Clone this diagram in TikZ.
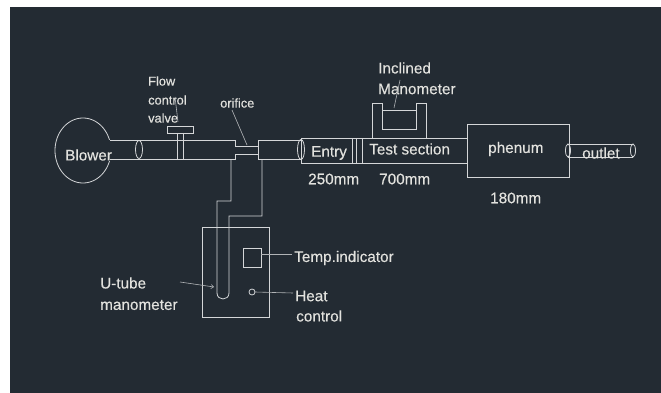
\documentclass[tikz,border=0pt]{standalone}
\usepackage{fontspec}
\setmainfont{Liberation Sans}[RawFeature={embolden=0.35}]
\usetikzlibrary{arrows.meta}
\definecolor{bg}{HTML}{232B33}
\definecolor{ln}{HTML}{D4D6D8}
\definecolor{tx}{HTML}{E2E2DE}
\tikzset{
  pipe/.style={draw=ln,line width=0.8pt},
  leader/.style={draw=ln!80!bg,line width=0.6pt},
  lab/.style={text=tx,inner sep=0pt,anchor=west,font=\fontsize{15.3}{15}\selectfont},
  small/.style={lab,font=\fontsize{12.8}{13}\selectfont}
}
\begin{document}
\begin{tikzpicture}[x=1pt,y=-1pt]
\useasboundingbox (0,0) rectangle (661,393);
\fill[white] (0,0) rectangle (661,393);
\fill[bg] (10,7) rectangle (661,393);
% blower
\draw[pipe] plot[domain=19:341,samples=80,smooth] ({83+28*cos(\x)},{150.5-32.5*sin(\x)});
\draw[pipe] (110,140) -- (235,140) -- (235,146) -- (258,146) -- (258,140) -- (301,140);
\draw[pipe] (110,159) -- (235,159) -- (235,154) -- (258,154) -- (258,159) -- (301,159);
\draw[pipe] (258,140) -- (258,159);
\draw[pipe] (139,149.5) ellipse[x radius=3.5,y radius=9];
\draw[pipe] (301,149.5) ellipse[x radius=3.5,y radius=10];
% valve
\draw[pipe] (167,126) rectangle (193,133);
\draw[pipe] (177,133) -- (177,159) (183,133) -- (183,159);
% entry and test section
\draw[pipe] (301,138) -- (467,138) (301,163) -- (467,163) (301,138) -- (301,163);
\draw[pipe] (352,138) -- (352,163) (356,138) -- (356,163) (362,138) -- (362,163);
% plenum
\draw[pipe] (467,124) rectangle (569,177);
% outlet
\draw[pipe] (568,144) -- (633,144) (568,157) -- (633,157);
\draw[pipe] (568,150.5) ellipse[x radius=2.5,y radius=6.5];
\draw[pipe] (633,150.5) ellipse[x radius=2.5,y radius=6.5];
% inclined manometer
\draw[pipe] (372,138) -- (372,103) -- (382,103) -- (382,129) -- (416,129) -- (416,103) -- (426,103) -- (426,138);
\draw[pipe] (382,110) -- (416,110);
% U-tube lines
\draw[pipe] (231,159) -- (231,201) -- (217,201) -- (217,293) .. controls (217,301) and (229,301) .. (229,293) -- (229,216) -- (262,216) -- (262,159);
% cabinet
\draw[pipe] (202,227) rectangle (269,317);
\draw[pipe] (243,248) rectangle (261,267);
\draw[pipe] (252,292) circle[radius=3];
% labels
\node[lab] (blower) at (65,155) {Blower};
\node[small] (flow) at (148,81) {Flow};
\node[small] (ctrl) at (148,100) {control};
\node[small] (valve) at (148,118) {valve};
\node[small] (orifice) at (220,103) {orifice};
\node[lab] (entry) at (311,153) {Entry};
\node[lab] (l250) at (308,179) {250mm};
\node[lab] (test) at (369,149) {Test section};
\node[lab] (l700) at (379,179) {700mm};
\node[lab] (phenum) at (488,149) {phenum};
\node[lab] (l180) at (490,198) {180mm};
\node[lab] (outlet) at (582,153) {outlet};
\node[lab] (incl) at (378,68) {Inclined};
\node[lab] (mano) at (378,89) {Manometer};
\node[lab] (utube) at (100,283) {U-tube};
\node[lab] (umano) at (100,305) {manometer};
\node[lab] (temp) at (294,258) {Temp.indicator};
\node[lab] (heat) at (295,296) {Heat};
\node[lab] (hctrl) at (296,316) {control};
% leaders
\coordinate (a1) at (175,97); \coordinate (a2) at (178,122);
\coordinate (b1) at (232,110); \coordinate (b2) at (247,145);
\coordinate (c1) at (400,80); \coordinate (c2) at (394,108);
\coordinate (d1) at (180,282); \coordinate (d2) at (214,287);
\coordinate (e1) at (261,254); \coordinate (e2) at (292,254);
\coordinate (f1) at (255,292); \coordinate (f2) at (293,293);
\draw[leader] (a1) -- (a2);
\draw[leader] (b1) -- (b2);
\draw[leader] (c1) -- (c2);
\draw[leader,-{Straight Barb[length=2.5pt,width=4pt]}] (d1) -- (d2);
\draw[leader] (e1) -- (e2);
\draw[leader] (f1) -- (f2);
\end{tikzpicture}
\end{document}
